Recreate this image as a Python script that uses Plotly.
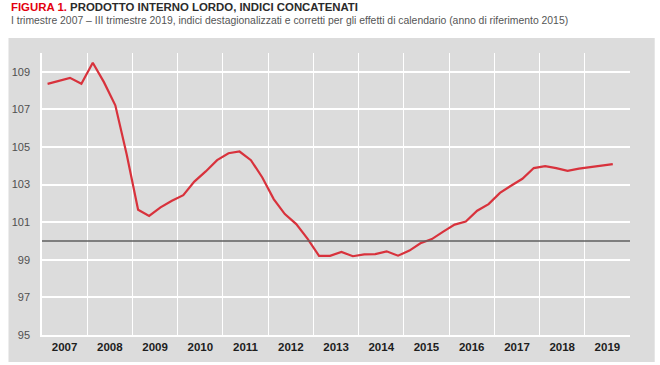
import plotly.graph_objects as go
import datetime as dt

# ---- data ----
years = list(range(2007, 2020))
quarters_years = [y for y in years for q in range(4)][:51]
quarters_q = [q for y in years for q in range(1, 5)][:51]
gdp_index = [
    108.36, 108.52, 108.68, 108.36,   # 2007
    109.48, 108.45, 107.22, 104.6,    # 2008
    101.66, 101.33, 101.79, 102.14,   # 2009
    102.44, 103.16, 103.70, 104.30,   # 2010
    104.67, 104.76, 104.30, 103.38,   # 2011
    102.23, 101.43, 100.90, 100.11,   # 2012
    99.21, 99.21, 99.42, 99.19,       # 2013
    99.29, 99.30, 99.45, 99.22,       # 2014
    99.49, 99.88, 100.10, 100.50,     # 2015
    100.87, 101.04, 101.61, 101.96,   # 2016
    102.56, 102.94, 103.31, 103.88,   # 2017
    103.98, 103.88, 103.73, 103.85,   # 2018
    103.94, 104.03, 104.09,           # 2019
]
y_ticks = [95, 97, 99, 101, 103, 105, 107, 109]
reference_level = 100
title_red = "FIGURA 1."
title_rest = " PRODOTTO INTERNO LORDO, INDICI CONCATENATI"
subtitle = ("I trimestre 2007 \u2013 III trimestre 2019, indici destagionalizzati e corretti "
            "per gli effetti di calendario (anno di riferimento 2015)")

# mid-quarter dates
x_dates = [dt.date(y, 3 * (q - 1) + 2, 15) for y, q in zip(quarters_years, quarters_q)]

FONT = "Liberation Sans Narrow, Arial Narrow, Liberation Sans, sans-serif"
PANEL = "#dcdcdc"

fig = go.Figure()
fig.add_trace(go.Scatter(
    x=x_dates, y=gdp_index, mode="lines",
    line=dict(color="#d8323c", width=2.2),
    hoverinfo="skip", showlegend=False,
))

fig.add_shape(type="line", xref="x domain", yref="y", x0=0, x1=1,
              y0=reference_level, y1=reference_level,
              line=dict(color="#5f5f5f", width=1.6), layer="above")

# grey panel behind plot
fig.add_shape(type="rect", xref="paper", yref="paper",
              x0=-0.057, x1=1.042, y0=-0.096, y1=1.053,
              fillcolor=PANEL, line=dict(width=0), layer="below")

fig.add_annotation(xref="paper", yref="paper", x=-0.056, y=1.162, xanchor="left", yanchor="middle",
                   showarrow=False,
                   text=f"<b><span style='color:#e3000f'>{title_red}</span>"
                        f"<span style='color:#2b2b2b'>{title_rest}</span></b>",
                   font=dict(family=FONT, size=11.4))
fig.add_annotation(xref="paper", yref="paper", x=-0.056, y=1.116, xanchor="left", yanchor="middle",
                   showarrow=False, text=subtitle,
                   font=dict(family=FONT, size=10.4, color="#555555"))

fig.update_layout(
    width=660, height=365,
    margin=dict(l=34, r=30, t=53, b=30),
    paper_bgcolor="white", plot_bgcolor=PANEL,
    font=dict(family=FONT),
    xaxis=dict(
        type="date",
        range=[dt.date(2007, 1, 1), dt.date(2020, 1, 1)],
        dtick="M12", tick0="2007-01-01",
        ticklabelmode="period", tickformat="%Y",
        showgrid=True, gridcolor="white", gridwidth=1.2,
        showline=True, linecolor="white", linewidth=1.5,
        ticks="", tickfont=dict(family=FONT, size=11.5, color="#1e1e1e", weight="bold"),
        zeroline=False, fixedrange=True,
    ),
    yaxis=dict(
        range=[95, 110], tickvals=y_ticks, ticktext=[str(v) for v in y_ticks],
        showgrid=True, gridcolor="white", gridwidth=1.5,
        showline=True, linecolor="white", linewidth=1.5,
        ticks="", ticklabelstandoff=8,
        tickfont=dict(family=FONT, size=11, color="#505050"),
        zeroline=False, fixedrange=True,
    ),
)

fig.write_html("out.html", config={"displayModeBar": False},
               post_script="document.body.style.margin='0';document.body.style.padding='0';")
